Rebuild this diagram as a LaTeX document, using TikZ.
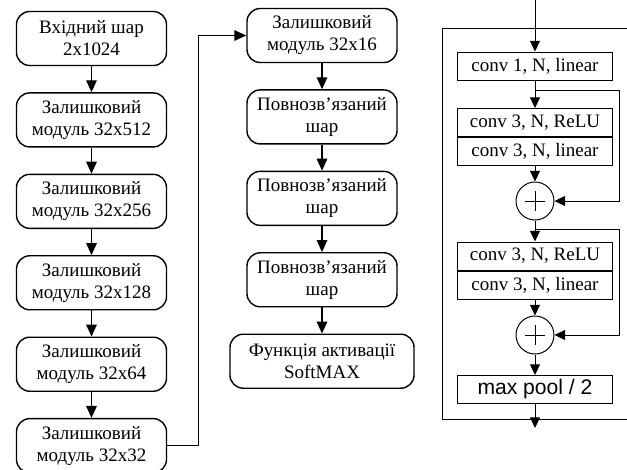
\documentclass[tikz,border=0pt]{standalone}
\usepackage{fontspec}
\setmainfont{Liberation Serif}
\newfontfamily\poolfont{Liberation Sans}
\usetikzlibrary{positioning,arrows.meta,calc}

\tikzset{
  layerbox/.style={draw, rounded corners=0.33cm, line width=1pt, minimum width=3.75cm,
    minimum height=1.35cm, align=center, inner sep=2pt, font=\fontsize{13.5}{15.7}\selectfont},
  convbox/.style={draw, line width=0.7pt, minimum width=3.85cm, minimum height=0.7cm,
    inner sep=1pt, font=\fontsize{13.5}{15.7}\selectfont},
  sumnode/.style={circle, draw, line width=0.7pt, minimum size=0.95cm, inner sep=0pt,
    path picture={\draw[line width=0.7pt]
      ([xshift=-0.24cm]path picture bounding box.center) -- ([xshift=0.24cm]path picture bounding box.center)
      ([yshift=-0.24cm]path picture bounding box.center) -- ([yshift=0.24cm]path picture bounding box.center);}},
  flow/.style={-{Triangle[length=8.5pt,width=7.5pt]}, line width=1pt},
  thinflow/.style={-{Triangle[length=7.5pt,width=7pt]}, line width=0.7pt},
}

\begin{document}
\begin{tikzpicture}[x=0.025cm, y=-0.025cm, node distance=0.65cm]
  \useasboundingbox (0,0) rectangle (627,469);
  \clip (0,0) rectangle (627,469);

  % Left column: input and residual modules
  \node[layerbox] (b1) at (91.5,38.5) {Вхідний шар\\2x1024};
  \node[layerbox, below=of b1] (b2) {Залишковий\\модуль 32x512};
  \node[layerbox, below=of b2] (b3) {Залишковий\\модуль 32x256};
  \node[layerbox, below=of b3] (b4) {Залишковий\\модуль 32x128};
  \node[layerbox, below=of b4] (b5) {Залишковий\\модуль 32x64};
  \node[layerbox, below=of b5] (b6) {Залишковий\\модуль 32x32};
  \foreach \a/\b in {b1/b2, b2/b3, b3/b4, b4/b5, b5/b6}
    \draw[flow] (\a) -- (\b);

  % Middle column: last module, dense layers, output
  \node[layerbox] (m1) at (322,35.5) {Залишковий\\модуль 32x16};
  \node[layerbox, below=of m1] (m2) {Повнозв’язаний\\шар};
  \node[layerbox, below=of m2] (m3) {Повнозв’язаний\\шар};
  \node[layerbox, below=of m3] (m4) {Повнозв’язаний\\шар};
  \node[layerbox, below=of m4, minimum width=4.6cm] (m5) {Функція активації\\SoftMAX};
  \foreach \a/\b in {m1/m2, m2/m3, m3/m4, m4/m5}
    \draw[flow] (\a) -- (\b);

  % Link between columns
  \draw[flow] (b6.east) -- ++(31,0) |- (m1.west);

  % Right panel: structure of one residual module
  \draw[line width=0.7pt] (442,28) rectangle (660,419);
  \coordinate (in) at (535,0);
  \node[convbox] (c1) at (535,66) {conv 1, N, linear};
  \node[convbox] (r1) at (535,122.5) {conv 3, N, ReLU};
  \node[convbox, below=0pt of r1] (r2) {conv 3, N, linear};
  \node[sumnode] (s1) at (535,201) {};
  \node[convbox] (r3) at (535,256) {conv 3, N, ReLU};
  \node[convbox, below=0pt of r3] (r4) {conv 3, N, linear};
  \node[sumnode] (s2) at (535,335) {};
  \node[convbox, font=\poolfont\fontsize{15}{17}\selectfont] (mp) at (535,389.5) {max pool / 2};
  \coordinate (out) at (535,428);

  \draw[thinflow] (in) -- (c1);
  \draw[thinflow] (c1) -- (r1);
  \draw[thinflow] (r2) -- (s1);
  \draw[thinflow] (s1) -- (r3);
  \draw[thinflow] (r4) -- (s2);
  \draw[thinflow] (s2) -- (mp);
  \draw[thinflow] (mp) -- (out);

  % Skip connections
  \coordinate (k1) at ($(c1.south)+(0,10)$);
  \coordinate (k2) at ($(s1.south)+(0,9)$);
  \draw[thinflow] (k1) -- ++(84,0) |- (s1.east);
  \draw[thinflow] (k2) -- ++(84,0) |- (s2.east);
\end{tikzpicture}
\end{document}
